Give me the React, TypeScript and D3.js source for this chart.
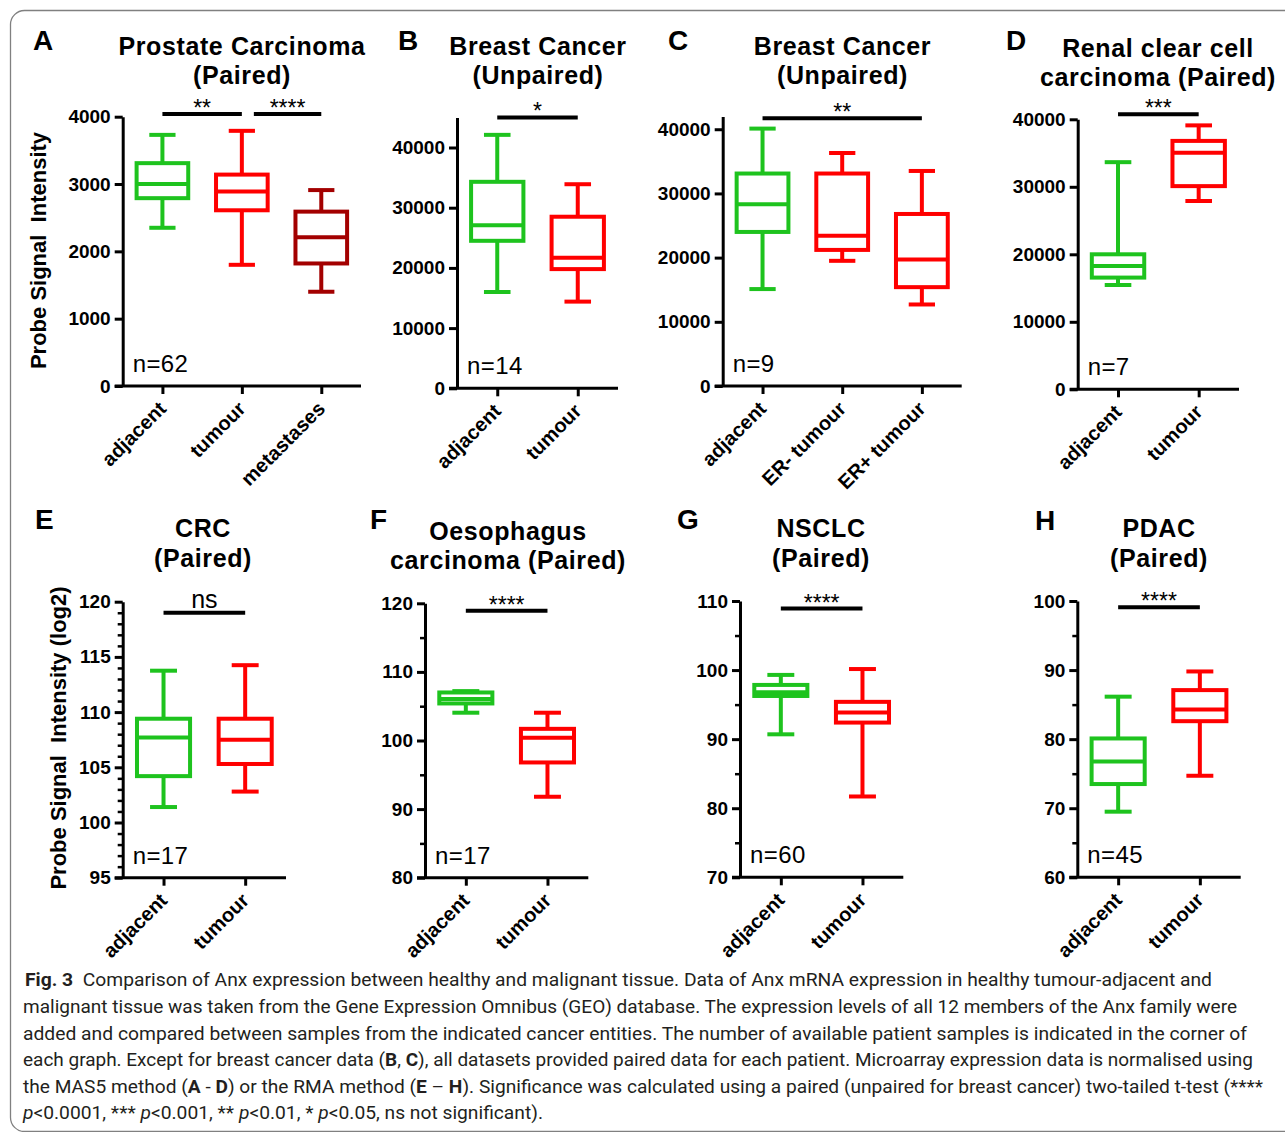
import React, { useEffect, useRef } from 'react';
import * as d3 from 'd3';

const FONT = "'Liberation Sans', Arial, Helvetica, sans-serif";
const CAPTION_FONT = "'Liberation Sans Narrow', Roboto, 'Noto Sans', sans-serif";

// panel text
const panelLetters = ['A', 'B', 'C', 'D', 'E', 'F', 'G', 'H'];
const panelTitles = [
  ['Prostate Carcinoma', '(Paired)'],
  ['Breast Cancer', '(Unpaired)'],
  ['Breast Cancer', '(Unpaired)'],
  ['Renal clear cell', 'carcinoma (Paired)'],
  ['CRC', '(Paired)'],
  ['Oesophagus', 'carcinoma (Paired)'],
  ['NSCLC', '(Paired)'],
  ['PDAC', '(Paired)'],
];
const sampleSizes = ['n=62', 'n=14', 'n=9', 'n=7', 'n=17', 'n=17', 'n=60', 'n=45'];
const yAxisTitles = ['Probe Signal  Intensity', '', '', '', 'Probe Signal  Intensity (log2)', '', '', ''];

const categories = [
  ['adjacent', 'tumour', 'metastases'],
  ['adjacent', 'tumour'],
  ['adjacent', 'ER- tumour', 'ER+ tumour'],
  ['adjacent', 'tumour'],
  ['adjacent', 'tumour'],
  ['adjacent', 'tumour'],
  ['adjacent', 'tumour'],
  ['adjacent', 'tumour'],
];

// [min, q1, median, q3, max]
const prostateBoxes = [[2350, 2790, 3000, 3310, 3730], [1800, 2610, 2890, 3140, 3790], [1400, 1820, 2210, 2590, 2910]];
const breastBoxes = [[16000, 24500, 27100, 34300, 42100], [14400, 19800, 21700, 28500, 33900]];
const breastErBoxes = [[15100, 24000, 28300, 33100, 40100], [19500, 21200, 23400, 33100, 36300], [12700, 15400, 19700, 26800, 33500]];
const renalBoxes = [[15450, 16550, 18250, 20000, 33650], [27900, 30100, 35050, 36800, 39100]];
const crcBoxes = [[101.4, 104.2, 107.7, 109.4, 113.75], [102.8, 105.3, 107.5, 109.4, 114.25]];
const oesophagusBoxes = [[104.05, 105.4, 106.05, 107.0, 107.2], [91.8, 96.8, 100.4, 101.7, 104.05]];
const nsclcBoxes = [[90.7, 96.25, 96.8, 97.85, 99.3], [81.7, 92.4, 93.85, 95.4, 100.15]];
const pdacBoxes = [[69.5, 73.5, 76.75, 80.1, 86.15], [74.7, 82.6, 84.3, 87.1, 89.8]];
const boxData = [prostateBoxes, breastBoxes, breastErBoxes, renalBoxes, crcBoxes, oesophagusBoxes, nsclcBoxes, pdacBoxes];

const yDomains = [[0, 4000], [0, 45000], [0, 42000], [0, 40000], [95, 120], [80, 120], [70, 110], [60, 100]];
const yTicks = [
  [0, 1000, 2000, 3000, 4000],
  [0, 10000, 20000, 30000, 40000],
  [0, 10000, 20000, 30000, 40000],
  [0, 10000, 20000, 30000, 40000],
  [95, 100, 105, 110, 115, 120],
  [80, 90, 100, 110, 120],
  [70, 80, 90, 100, 110],
  [60, 70, 80, 90, 100],
];
const yMinorStep = [0, 0, 0, 0, 1, 5, 5, 5];

const significance = [
  [{ from: 0, to: 1, y: 4040, label: '**' }, { from: 1, to: 2, y: 4040, label: '****' }],
  [{ from: 0, to: 1, y: 45000, label: '*' }],
  [{ from: 0, to: 2, y: 41700, label: '**' }],
  [{ from: 0, to: 1, y: 40740, label: '***' }],
  [{ from: 0, to: 1, y: 119.0, label: 'ns' }],
  [{ from: 0, to: 1, y: 118.9, label: '****' }],
  [{ from: 0, to: 1, y: 108.9, label: '****' }],
  [{ from: 0, to: 1, y: 99.1, label: '****' }],
];

const captionLines = [
  [['Fig. 3', 'b'], ['  Comparison of Anx expression between healthy and malignant tissue. Data of Anx mRNA expression in healthy tumour-adjacent and', '']],
  [['malignant tissue was taken from the Gene Expression Omnibus (GEO) database. The expression levels of all 12 members of the Anx family were', '']],
  [['added and compared between samples from the indicated cancer entities. The number of available patient samples is indicated in the corner of', '']],
  [['each graph. Except for breast cancer data (', ''], ['B', 'b'], [', ', ''], ['C', 'b'], ['), all datasets provided paired data for each patient. Microarray expression data is normalised using', '']],
  [['the MAS5 method (', ''], ['A', 'b'], [' - ', ''], ['D', 'b'], [') or the RMA method (', ''], ['E', 'b'], [' – ', ''], ['H', 'b'], ['). Significance was calculated using a paired (unpaired for breast cancer) two-tailed t-test (****', '']],
  [['p', 'i'], ['<0.0001, *** ', ''], ['p', 'i'], ['<0.001, ** ', ''], ['p', 'i'], ['<0.01, * ', ''], ['p', 'i'], ['<0.05, ns not significant).', '']],
];

const colorFor = (cat: string) => (cat === 'adjacent' ? '#1ec31e' : cat === 'metastases' ? '#a30000' : '#ff0000');

// pixel layout of each panel
const layout = [
  { x0: 122.7, x1: 361, top: 116.7, bottom: 386, lx: 33, ly: 50, tx: 242, ty: [55, 84], yl: [46, 250.5] },
  { x0: 457, x1: 618, top: 117.4, bottom: 388.3, lx: 398, ly: 50, tx: 538, ty: [55, 84] },
  { x0: 722.7, x1: 961.7, top: 116.4, bottom: 386, lx: 668, ly: 50, tx: 842.5, ty: [55, 84] },
  { x0: 1077.7, x1: 1239, top: 119.3, bottom: 389.3, lx: 1006, ly: 50, tx: 1158, ty: [57, 86] },
  { x0: 122.7, x1: 286, top: 601.7, bottom: 877.7, lx: 35, ly: 529, tx: 203, ty: [537, 567], yl: [66, 738] },
  { x0: 425, x1: 588.3, top: 603.3, bottom: 877.7, lx: 370, ly: 529, tx: 508, ty: [540, 569] },
  { x0: 740, x1: 903.3, top: 601, bottom: 877.3, lx: 677, ly: 529, tx: 821, ty: [537, 567] },
  { x0: 1077.3, x1: 1240.7, top: 601, bottom: 877.3, lx: 1035, ly: 530, tx: 1159, ty: [537, 567] },
];
const captionLayout = [
  { x: 25, y: 986, w: 1187 },
  { x: 23, y: 1013, w: 1214 },
  { x: 23, y: 1040, w: 1224 },
  { x: 23, y: 1066, w: 1230 },
  { x: 23, y: 1093, w: 1240 },
  { x: 23, y: 1119, w: 520 },
];

function drawPanel(g: any, i: number) {
  const L = layout[i];
  const cats = categories[i];
  const y = d3.scaleLinear().domain(yDomains[i]).range([L.bottom, L.top]);
  const x = d3.scalePoint<string>().domain(cats).range([L.x0, L.x1]).padding(0.5);
  const step = x.step();
  const boxW = step * 0.65;
  const capW = step * 0.33;

  // letter + title
  g.append('text').attr('x', L.lx).attr('y', L.ly).attr('font-size', 28).attr('font-weight', 'bold').text(panelLetters[i]);
  panelTitles[i].forEach((t, k) => {
    g.append('text').attr('x', L.tx).attr('y', L.ty[k]).attr('text-anchor', 'middle')
      .attr('font-size', 25).attr('font-weight', 'bold').attr('letter-spacing', 0.6).text(t);
  });

  // y axis
  const ga = g.append('g').attr('transform', `translate(${L.x0},0)`)
    .call(d3.axisLeft(y).tickValues(yTicks[i]).tickSize(8).tickSizeOuter(0).tickPadding(4).tickFormat(d3.format('d')));
  ga.attr('font-family', FONT).attr('font-size', 19).attr('font-weight', 'bold');
  ga.select('.domain').attr('stroke-width', 3);
  ga.selectAll('.tick line').attr('stroke-width', 3);
  ga.selectAll('.tick text').attr('fill', '#000');

  if (yMinorStep[i]) {
    const [lo, hi] = yDomains[i];
    const minor = d3.range(lo, hi + 0.001, yMinorStep[i]).filter(v => !yTicks[i].includes(v));
    const gm = g.append('g').attr('transform', `translate(${L.x0},0)`)
      .call(d3.axisLeft(y).tickValues(minor).tickSize(5).tickFormat(() => ''));
    gm.select('.domain').remove();
    gm.selectAll('.tick line').attr('stroke-width', 2.5);
  }

  // x axis
  const gx = g.append('g').attr('transform', `translate(0,${L.bottom})`)
    .call(d3.axisBottom(x).tickSize(8).tickSizeOuter(0).tickFormat(() => ''));
  gx.select('.domain').remove();
  gx.selectAll('.tick line').attr('stroke-width', 3);
  g.append('line').attr('x1', L.x0 - 8).attr('x2', L.x1).attr('y1', L.bottom).attr('y2', L.bottom)
    .attr('stroke', '#000').attr('stroke-width', 3);

  g.selectAll('.xlab').data(cats).enter().append('text')
    .attr('transform', (d: string) => `translate(${x(d)! + 5},${L.bottom + 24}) rotate(-45)`)
    .attr('text-anchor', 'end').attr('font-size', 20).attr('font-weight', 'bold')
    .text((d: string) => d);

  // y title
  if (yAxisTitles[i] && L.yl) {
    g.append('text').attr('transform', `translate(${L.yl[0]},${L.yl[1]}) rotate(-90)`)
      .attr('text-anchor', 'middle').attr('font-size', 22).attr('font-weight', 'bold')
      .style('white-space', 'pre').text(yAxisTitles[i]);
  }

  // boxes
  boxData[i].forEach((b, j) => {
    const cx = x(cats[j])!;
    const col = colorFor(cats[j]);
    const [mn, q1, md, q3, mx] = b;
    const bg = g.append('g').attr('stroke', col).attr('stroke-width', 4).attr('fill', 'none');
    bg.append('line').attr('x1', cx).attr('x2', cx).attr('y1', y(mx)).attr('y2', y(q3));
    bg.append('line').attr('x1', cx).attr('x2', cx).attr('y1', y(q1)).attr('y2', y(mn));
    bg.append('line').attr('x1', cx - capW / 2).attr('x2', cx + capW / 2).attr('y1', y(mx)).attr('y2', y(mx));
    bg.append('line').attr('x1', cx - capW / 2).attr('x2', cx + capW / 2).attr('y1', y(mn)).attr('y2', y(mn));
    bg.append('rect').attr('x', cx - boxW / 2).attr('y', y(q3)).attr('width', boxW).attr('height', y(q1) - y(q3));
    bg.append('line').attr('x1', cx - boxW / 2).attr('x2', cx + boxW / 2).attr('y1', y(md)).attr('y2', y(md));
  });

  // significance bars
  significance[i].forEach((s, k) => {
    let xa = x(cats[s.from])!;
    const xb = x(cats[s.to])!;
    if (k > 0 && significance[i][k - 1].to === s.from) xa += 12;
    const yy = y(s.y);
    g.append('line').attr('x1', xa).attr('x2', xb).attr('y1', yy).attr('y2', yy)
      .attr('stroke', '#000').attr('stroke-width', 4);
    const isNs = s.label === 'ns';
    g.append('text').attr('x', (xa + xb) / 2).attr('y', isNs ? yy - 5 : yy + 2)
      .attr('text-anchor', 'middle').attr('font-size', isNs ? 25 : 23).text(s.label);
  });

  // n
  g.append('text').attr('x', L.x0 + 10).attr('y', L.bottom - 14)
    .attr('font-size', 24).attr('letter-spacing', 0.4).text(sampleSizes[i]);
}

export default function App() {
  const ref = useRef<SVGSVGElement>(null);

  useEffect(() => {
    const svg = d3.select(ref.current);
    svg.selectAll('*').remove();

    svg.append('rect').attr('x', 10.5).attr('y', 10.5).attr('width', 1320).attr('height', 1121)
      .attr('rx', 14).attr('fill', 'none').attr('stroke', '#808080').attr('stroke-width', 1.3);

    const root = svg.append('g').attr('font-family', FONT).attr('fill', '#000');
    layout.forEach((_, i) => drawPanel(root.append('g'), i));

    // caption
    const cap = svg.append('g').attr('font-family', CAPTION_FONT).attr('font-size', 19).attr('fill', '#231f20');
    captionLines.forEach((segs, k) => {
      const C = captionLayout[k];
      const t = cap.append('text').attr('x', C.x).attr('y', C.y)
        .attr('textLength', C.w).attr('lengthAdjust', 'spacingAndGlyphs').style('white-space', 'pre');
      segs.forEach(([txt, st]) => {
        t.append('tspan')
          .attr('font-weight', st === 'b' ? 'bold' : null)
          .attr('font-style', st === 'i' ? 'italic' : null)
          .text(txt);
      });
    });
  }, []);

  return (
    <div style={{ position: 'absolute', left: 0, top: 0 }}>
      <svg ref={ref} width={1285} height={1132} style={{ display: 'block', background: '#fff' }}></svg>
    </div>
  );
}
